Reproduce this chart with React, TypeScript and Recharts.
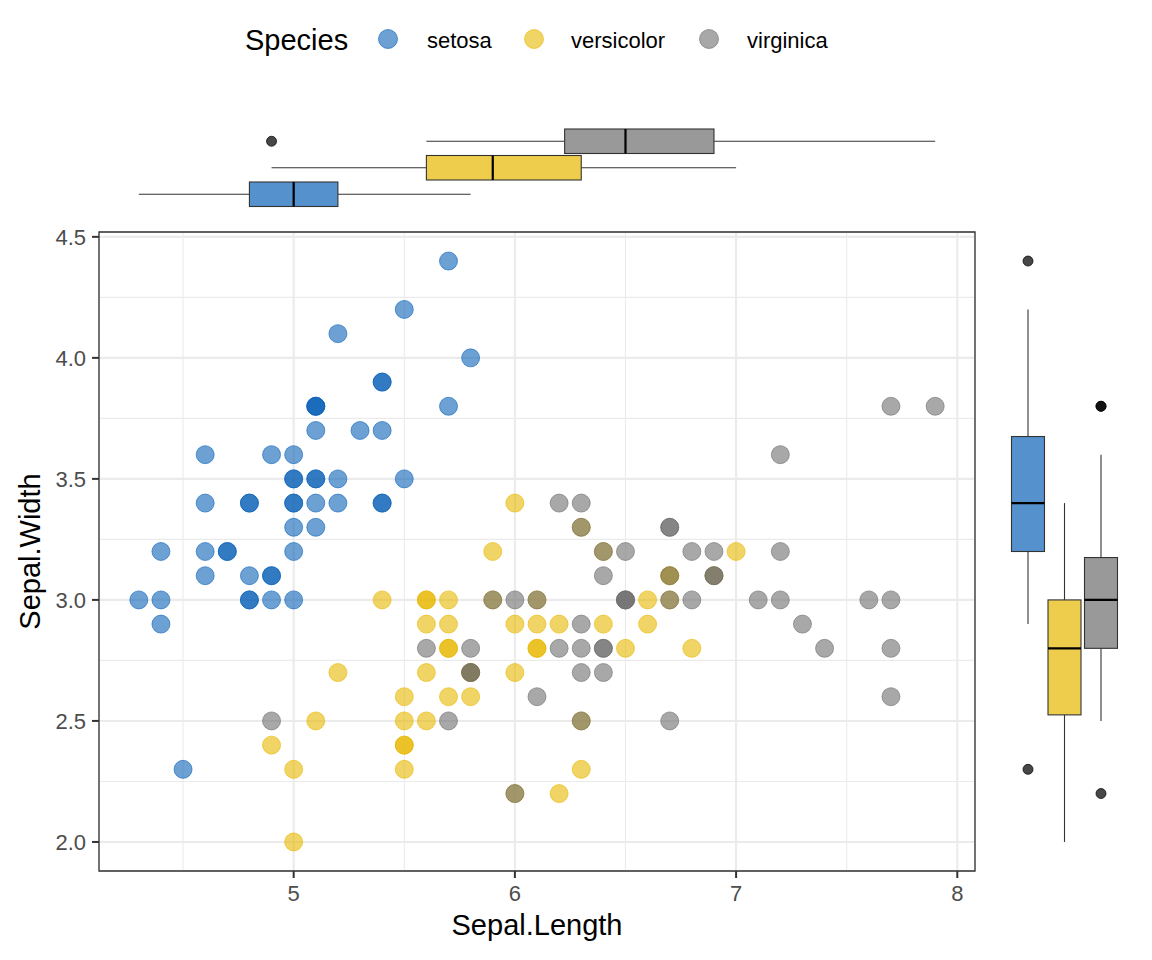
import React from 'react';
import {
  ScatterChart,
  Scatter,
  XAxis,
  YAxis,
  CartesianGrid,
  ReferenceArea,
  Legend,
  ComposedChart,
  Bar,
  Label,
} from 'recharts';

const FONT = '"Liberation Sans", Arial, Helvetica, sans-serif';

const SPECIES = ['setosa', 'versicolor', 'virginica'];
const COLORS = ['#0C62B8', '#E7B800', '#6E6E6E'];

const X_TICKS = [5, 6, 7, 8];
const X_MINOR = [4.5, 5.5, 6.5, 7.5];
const Y_TICKS = [2.0, 2.5, 3.0, 3.5, 4.0, 4.5];
const Y_MINOR = [2.25, 2.75, 3.25, 3.75, 4.25];
const X_DOMAIN: [number, number] = [4.12, 8.08];
const Y_DOMAIN: [number, number] = [1.88, 4.52];

const setosaLength = [
  5.1, 4.9, 4.7, 4.6, 5.0, 5.4, 4.6, 5.0, 4.4, 4.9, 5.4, 4.8, 4.8, 4.3, 5.8, 5.7, 5.4, 5.1, 5.7, 5.1,
  5.4, 5.1, 4.6, 5.1, 4.8, 5.0, 5.0, 5.2, 5.2, 4.7, 4.8, 5.4, 5.2, 5.5, 4.9, 5.0, 5.5, 4.9, 4.4, 5.1,
  5.0, 4.5, 4.4, 5.0, 5.1, 4.8, 5.1, 4.6, 5.3, 5.0,
];
const setosaWidth = [
  3.5, 3.0, 3.2, 3.1, 3.6, 3.9, 3.4, 3.4, 2.9, 3.1, 3.7, 3.4, 3.0, 3.0, 4.0, 4.4, 3.9, 3.5, 3.8, 3.8,
  3.4, 3.7, 3.6, 3.3, 3.4, 3.0, 3.4, 3.5, 3.4, 3.2, 3.1, 3.4, 4.1, 4.2, 3.1, 3.2, 3.5, 3.6, 3.0, 3.4,
  3.5, 2.3, 3.2, 3.5, 3.8, 3.0, 3.8, 3.2, 3.7, 3.3,
];
const versicolorLength = [
  7.0, 6.4, 6.9, 5.5, 6.5, 5.7, 6.3, 4.9, 6.6, 5.2, 5.0, 5.9, 6.0, 6.1, 5.6, 6.7, 5.6, 5.8, 6.2, 5.6,
  5.9, 6.1, 6.3, 6.1, 6.4, 6.6, 6.8, 6.7, 6.0, 5.7, 5.5, 5.5, 5.8, 6.0, 5.4, 6.0, 6.7, 6.3, 5.6, 5.5,
  5.5, 6.1, 5.8, 5.0, 5.6, 5.7, 5.7, 6.2, 5.1, 5.7,
];
const versicolorWidth = [
  3.2, 3.2, 3.1, 2.3, 2.8, 2.8, 3.3, 2.4, 2.9, 2.7, 2.0, 3.0, 2.2, 2.9, 2.9, 3.1, 3.0, 2.7, 2.2, 2.5,
  3.2, 2.8, 2.5, 2.8, 2.9, 3.0, 2.8, 3.0, 2.9, 2.6, 2.4, 2.4, 2.7, 2.7, 3.0, 3.4, 3.1, 2.3, 3.0, 2.5,
  2.6, 3.0, 2.6, 2.3, 2.7, 3.0, 2.9, 2.9, 2.5, 2.8,
];
const virginicaLength = [
  6.3, 5.8, 7.1, 6.3, 6.5, 7.6, 4.9, 7.3, 6.7, 7.2, 6.5, 6.4, 6.8, 5.7, 5.8, 6.4, 6.5, 7.7, 7.7, 6.0,
  6.9, 5.6, 7.7, 6.3, 6.7, 7.2, 6.2, 6.1, 6.4, 7.2, 7.4, 7.9, 6.4, 6.3, 6.1, 7.7, 6.3, 6.4, 6.0, 6.9,
  6.7, 6.9, 5.8, 6.8, 6.7, 6.7, 6.3, 6.5, 6.2, 5.9,
];
const virginicaWidth = [
  3.3, 2.7, 3.0, 2.9, 3.0, 3.0, 2.5, 2.9, 2.5, 3.6, 3.2, 2.7, 3.0, 2.5, 2.8, 3.2, 3.0, 3.8, 2.6, 2.2,
  3.2, 2.8, 2.8, 2.7, 3.3, 3.2, 2.8, 3.0, 2.8, 3.0, 2.8, 3.8, 2.8, 2.8, 2.6, 3.0, 3.4, 3.1, 3.0, 3.1,
  3.1, 3.1, 2.7, 3.2, 3.3, 3.0, 2.5, 3.0, 3.4, 3.0,
];

const LENGTHS = [setosaLength, versicolorLength, virginicaLength];
const WIDTHS = [setosaWidth, versicolorWidth, virginicaWidth];

const pointSets = LENGTHS.map((xs, i) => xs.map((x, j) => ({ x, y: WIDTHS[i][j] })));

// Tukey box statistics (quantile type 7, like R)
function quantile(sorted: number[], p: number) {
  const h = (sorted.length - 1) * p;
  const lo = Math.floor(h);
  const hi = Math.min(lo + 1, sorted.length - 1);
  return sorted[lo] + (h - lo) * (sorted[hi] - sorted[lo]);
}
function boxStats(values: number[], name: string, color: string) {
  const s = [...values].sort((a, b) => a - b);
  const q1 = quantile(s, 0.25);
  const med = quantile(s, 0.5);
  const q3 = quantile(s, 0.75);
  const iqr = q3 - q1;
  const lf = q1 - 1.5 * iqr - 1e-9;
  const uf = q3 + 1.5 * iqr + 1e-9;
  const inside = s.filter((v) => v >= lf && v <= uf);
  const wlo = inside[0];
  const whi = inside[inside.length - 1];
  const outliers = s.filter((v) => v < lf || v > uf);
  return { species: name, color, q1, med, q3, range: [wlo, whi], outliers };
}

const lengthBoxes = LENGTHS.map((v, i) => boxStats(v, SPECIES[i], COLORS[i]));
const widthBoxes = WIDTHS.map((v, i) => boxStats(v, SPECIES[i], COLORS[i]));

const LINE = '#333333';

// horizontal boxplot (top marginal)
const HBox = (props: any) => {
  const { x, y, width, height, payload } = props;
  if (!payload) return null;
  const left = Math.min(x, x + width);
  const right = Math.max(x, x + width);
  const [lo, hi] = payload.range;
  const map = (v: number) => left + ((v - lo) / (hi - lo)) * (right - left);
  const top = Math.min(y, y + height);
  const h = Math.abs(height);
  const cy = top + h / 2;
  return (
    <g>
      <line x1={map(lo)} x2={map(payload.q1)} y1={cy} y2={cy} stroke={LINE} strokeWidth={1.1} />
      <line x1={map(payload.q3)} x2={map(hi)} y1={cy} y2={cy} stroke={LINE} strokeWidth={1.1} />
      <rect
        x={map(payload.q1)}
        y={top}
        width={map(payload.q3) - map(payload.q1)}
        height={h}
        fill={payload.color}
        fillOpacity={0.7}
        stroke={LINE}
        strokeWidth={1.1}
      />
      <line x1={map(payload.med)} x2={map(payload.med)} y1={top} y2={top + h} stroke="#000" strokeWidth={2.2} />
      {payload.outliers.map((o: number, k: number) => (
        <circle key={k} cx={map(o)} cy={cy} r={5} fill="#000" fillOpacity={0.72} stroke="#000" strokeOpacity={0.72} strokeWidth={1} />
      ))}
    </g>
  );
};

// vertical boxplot (right marginal)
const VBox = (props: any) => {
  const { x, y, width, height, payload } = props;
  if (!payload) return null;
  const top = Math.min(y, y + height);
  const bottom = Math.max(y, y + height);
  const [lo, hi] = payload.range;
  const map = (v: number) => bottom - ((v - lo) / (hi - lo)) * (bottom - top);
  const left = Math.min(x, x + width);
  const w = Math.abs(width);
  const cx = left + w / 2;
  return (
    <g>
      <line y1={map(lo)} y2={map(payload.q1)} x1={cx} x2={cx} stroke={LINE} strokeWidth={1.1} />
      <line y1={map(payload.q3)} y2={map(hi)} x1={cx} x2={cx} stroke={LINE} strokeWidth={1.1} />
      <rect
        x={left}
        y={map(payload.q3)}
        width={w}
        height={map(payload.q1) - map(payload.q3)}
        fill={payload.color}
        fillOpacity={0.7}
        stroke={LINE}
        strokeWidth={1.1}
      />
      <line y1={map(payload.med)} y2={map(payload.med)} x1={left} x2={left + w} stroke="#000" strokeWidth={2.2} />
      {payload.outliers.map((o: number, k: number) => (
        <circle key={k} cx={cx} cy={map(o)} r={5} fill="#000" fillOpacity={0.72} stroke="#000" strokeOpacity={0.72} strokeWidth={1} />
      ))}
    </g>
  );
};

const makeDot = (color: string) => (p: any) => {
  if (p.cx == null || p.cy == null) return null;
  return (
    <circle
      cx={p.cx}
      cy={p.cy}
      r={9}
      fill={color}
      fillOpacity={0.6}
      stroke={color}
      strokeOpacity={0.6}
      strokeWidth={1}
    />
  );
};

const LEGEND_POS = { title: 245, items: [[388, 427], [534, 571], [709, 747]], y: 40 };

const LegendContent = () => (
  <svg width={1152} height={80} style={{ display: 'block' }}>
    <text x={LEGEND_POS.title} y={LEGEND_POS.y} dominantBaseline="central" fontSize={29} fontFamily={FONT} fill="#000">
      Species
    </text>
    {SPECIES.map((s, i) => (
      <g key={s}>
        <circle
          cx={LEGEND_POS.items[i][0]}
          cy={LEGEND_POS.y - 1}
          r={9.5}
          fill={COLORS[i]}
          fillOpacity={0.6}
          stroke={COLORS[i]}
          strokeOpacity={0.6}
          strokeWidth={1}
        />
        <text x={LEGEND_POS.items[i][1]} y={LEGEND_POS.y} dominantBaseline="central" fontSize={22} fontFamily={FONT} fill="#000">
          {s}
        </text>
      </g>
    ))}
  </svg>
);

const tickStyle = { fill: '#4d4d4d', fontSize: 22, fontFamily: FONT };
const tickLineStyle = { stroke: LINE, strokeWidth: 2 };

export default function App() {
  return (
    <div style={{ position: 'absolute', left: 0, top: 0, width: 1152, height: 960, background: '#fff', fontFamily: FONT }}>
      {/* top marginal boxplot */}
      <div style={{ position: 'absolute', left: 0, top: 0 }}>
        <ComposedChart
          width={1152}
          height={230}
          layout="vertical"
          data={lengthBoxes}
          margin={{ top: 128, right: 177, bottom: 22.5, left: 99 }}
        >
          <XAxis type="number" domain={X_DOMAIN} hide allowDataOverflow />
          <YAxis type="category" dataKey="species" hide reversed />
          <Bar dataKey="range" barSize={24.5} isAnimationActive={false} shape={<HBox />} />
        </ComposedChart>
      </div>
      {/* right marginal boxplot */}
      <div style={{ position: 'absolute', left: 0, top: 0 }}>
        <ComposedChart
          width={1152}
          height={960}
          data={widthBoxes}
          margin={{ top: 232, right: 33, bottom: 89, left: 1009.5 }}
        >
          <XAxis type="category" dataKey="species" hide />
          <YAxis type="number" domain={Y_DOMAIN} hide allowDataOverflow />
          <Bar dataKey="range" barSize={33} isAnimationActive={false} shape={<VBox />} />
        </ComposedChart>
      </div>
      {/* main scatter */}
      <div style={{ position: 'absolute', left: 0, top: 0 }}>
        <ScatterChart width={1152} height={960} margin={{ top: 232, right: 177, bottom: 0, left: 0 }}>
          <XAxis xAxisId="minor" type="number" dataKey="x" domain={X_DOMAIN} ticks={X_MINOR} hide allowDataOverflow />
          <YAxis yAxisId="minor" type="number" dataKey="y" domain={Y_DOMAIN} ticks={Y_MINOR} hide allowDataOverflow />
          <CartesianGrid xAxisId="minor" yAxisId="minor" stroke="#ebebeb" strokeWidth={1.1} />
          <CartesianGrid stroke="#ebebeb" strokeWidth={2.1} />
          <XAxis
            type="number"
            dataKey="x"
            domain={X_DOMAIN}
            ticks={X_TICKS}
            allowDataOverflow
            height={89}
            axisLine={false}
            tick={tickStyle}
            tickLine={tickLineStyle}
            tickSize={7}
            tickMargin={7}
          >
            <Label
              content={(p: any) => {
                const vb = p.viewBox || { x: 99, y: 871, width: 876, height: 89 };
                return (
                  <text
                    x={vb.x + vb.width / 2}
                    y={vb.y + 54}
                    textAnchor="middle"
                    dominantBaseline="central"
                    fontSize={29}
                    fontFamily={FONT}
                    fill="#000"
                  >
                    Sepal.Length
                  </text>
                );
              }}
            />
          </XAxis>
          <YAxis
            type="number"
            dataKey="y"
            domain={Y_DOMAIN}
            ticks={Y_TICKS}
            allowDataOverflow
            width={99}
            axisLine={false}
            tick={tickStyle}
            tickLine={tickLineStyle}
            tickSize={7}
            tickMargin={6}
            tickFormatter={(v: number) => v.toFixed(1)}
          >
            <Label
              content={(p: any) => {
                const vb = p.viewBox || { x: 0, y: 232, width: 99, height: 639 };
                const cx = vb.x + 30;
                const cy = vb.y + vb.height / 2;
                return (
                  <text
                    x={cx}
                    y={cy}
                    transform={`rotate(-90 ${cx} ${cy})`}
                    textAnchor="middle"
                    dominantBaseline="central"
                    fontSize={29}
                    fontFamily={FONT}
                    fill="#000"
                  >
                    Sepal.Width
                  </text>
                );
              }}
            />
          </YAxis>
          <ReferenceArea
            x1={X_DOMAIN[0]}
            x2={X_DOMAIN[1]}
            y1={Y_DOMAIN[0]}
            y2={Y_DOMAIN[1]}
            fill="none"
            stroke={LINE}
            strokeWidth={1.3}
            ifOverflow="visible"
          />
          {pointSets.map((pts, i) => (
            <Scatter
              key={SPECIES[i]}
              name={SPECIES[i]}
              data={pts}
              fill={COLORS[i]}
              isAnimationActive={false}
              shape={makeDot(COLORS[i])}
            />
          ))}
          <Legend
            layout="vertical"
            verticalAlign="middle"
            align="center"
            wrapperStyle={{ position: 'absolute', top: 0, left: 0, width: 1152, height: 80 }}
            content={<LegendContent />}
          />
        </ScatterChart>
      </div>
    </div>
  );
}
